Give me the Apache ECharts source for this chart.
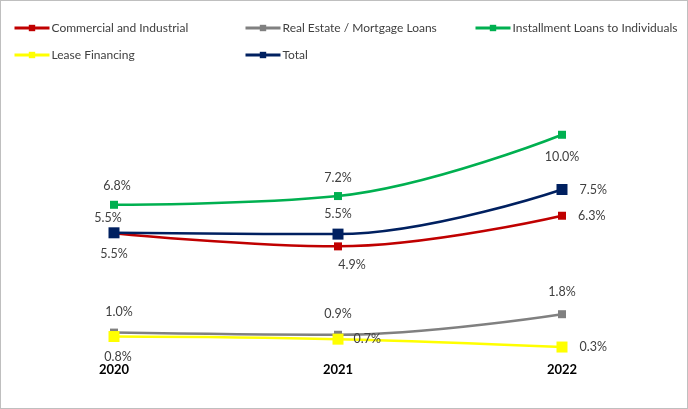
<!DOCTYPE html>
<html><head><meta charset="utf-8">
<script src="https://cdn.jsdelivr.net/npm/echarts@6/dist/echarts.min.js"></script>
<style>html,body{margin:0;padding:0;background:#fff}#c{width:688px;height:409px;box-sizing:border-box;border:1px solid #bfbfbf}</style>
</head><body><div id="c"></div>
<script>
const categories = ['2020', '2021', '2022'];
const commercial = [5.5, 4.9, 6.3];
const realEstate = [0.96, 0.86, 1.8];
const installment = [6.8, 7.2, 10.0];
const lease = [0.78, 0.66, 0.3];
const total = [5.52, 5.46, 7.5];
const names = ['Commercial and Industrial', 'Real Estate / Mortgage Loans', 'Installment Loans to Individuals', 'Lease Financing', 'Total'];

const chart = echarts.init(document.getElementById('c'));
const font = 'Lato, "Liberation Sans", sans-serif';
const lblStyle = {color: '#404040', fontSize: 12.5, fontFamily: font};
function mk(name, data, color, size, positions, offsets) {
  return {
    name, type: 'line', smooth: 0.4, symbol: 'rect', symbolSize: size,
    lineStyle: {color, width: 2.5}, itemStyle: {color},
    label: {show: false},
    data: data.map((v, i) => ({
      value: v,
      label: Object.assign({show: true, position: positions[i], distance: 8,
        offset: offsets ? offsets[i] : [0, 0],
        formatter: p => p.value.toFixed(1) + '%'}, lblStyle)
    }))
  };
}
const legendPos = [[12, 21], [243, 21], [473, 21], [12, 48], [243, 48]];
chart.setOption({
  animation: false,
  legend: names.map((n, i) => ({
    data: [n], left: legendPos[i][0], top: legendPos[i][1], itemWidth: 35, itemHeight: 8,
    lineStyle: {width: 3},
    itemGap: 0, textStyle: {color: '#404040', fontSize: 12, fontFamily: font, padding: [0, 0, 0, -3]}, padding: 0
  })),
  grid: {left: 113, right: 125, top: 90, bottom: 54.4},
  xAxis: {type: 'category', data: categories, boundaryGap: false,
    axisLine: {show: false}, axisTick: {show: false}, splitLine: {show: false},
    axisLabel: {color: '#000', fontWeight: 'bold', fontSize: 13, fontFamily: font, margin: 10}},
  yAxis: {type: 'value', min: 0, max: 12, show: false, splitLine: {show: false}},
  series: [
    mk(names[0], commercial, '#C00000', 8, ['bottom', 'bottom', 'right'], [[0, 2], [14, 0], [4, 0]]),
    mk(names[1], realEstate, '#808080', 8, ['top', 'top', 'top'], [[5, -2], [0, -2], [0, -4]]),
    mk(names[2], installment, '#00B050', 8, ['top', 'top', 'bottom'], [[3, 0], [0, 0], [0, 4]]),
    mk(names[3], lease, '#FFFF00', 11, ['bottom', 'right', 'right'], [[4, 0], [2, 0], [4, 0]]),
    mk(names[4], total, '#002060', 11, ['top', 'top', 'right'], [[-6, 5], [0, 0], [4, 0]])
  ]
});
</script></body></html>
